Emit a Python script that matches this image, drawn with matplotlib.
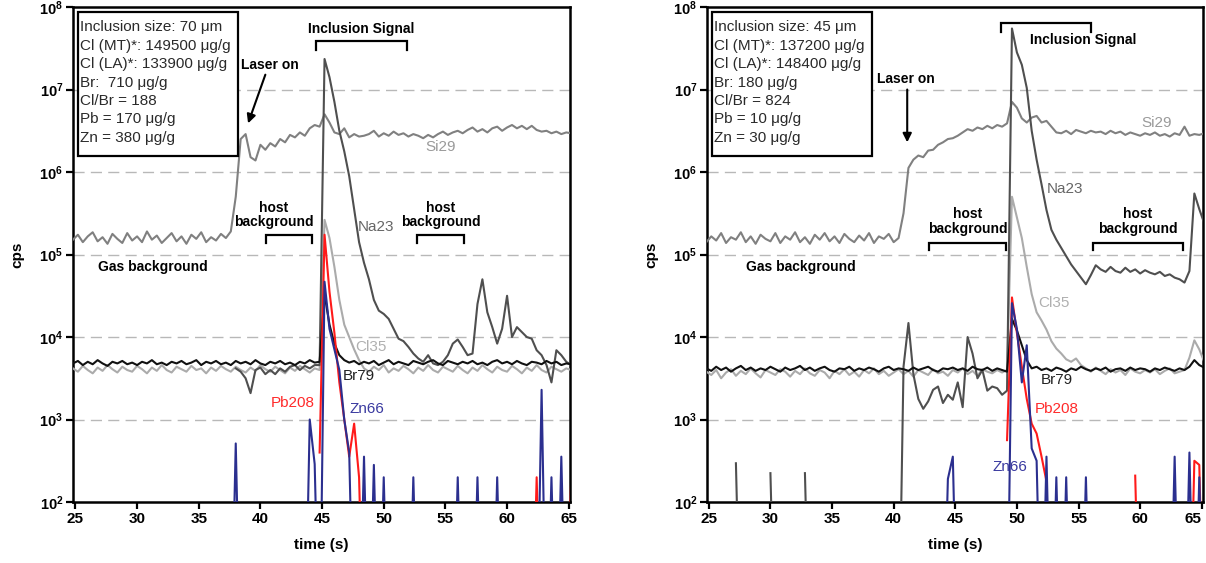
import matplotlib

matplotlib.use("Agg")

import matplotlib.pyplot as plt
import numpy as np
from matplotlib.patches import Rectangle

plt.rcParams["font.family"] = ["Liberation Sans", "DejaVu Sans"]
plt.rcParams["mathtext.fontset"] = "custom"
plt.rcParams["mathtext.rm"] = "Liberation Sans:bold"
plt.rcParams["mathtext.bf"] = "Liberation Sans:bold"
plt.rcParams["mathtext.it"] = "Liberation Sans:bold:italic"

nan = np.nan

# sampling grid (s): 24.8, 25.2, ... 65.2  -> 102 samples
time_s = np.linspace(24.8, 65.2, 102)

# ---- left panel (70 um inclusion), values are log10(cps); 0 = no counts ----
si29_left = [
    5.18, 5.24, 5.15, 5.22, 5.27, 5.16, 5.21, 5.13, 5.25, 5.19,
    5.14, 5.26, 5.17, 5.22, 5.15, 5.28, 5.18, 5.23, 5.14, 5.20,
    5.26, 5.16, 5.22, 5.13, 5.24, 5.19, 5.27, 5.15, 5.21, 5.17,
    5.25, 5.20, 5.28, 5.70, 6.40, 6.46, 6.18, 6.14, 6.33, 6.27,
    6.35, 6.31, 6.40, 6.36, 6.45, 6.42, 6.48, 6.44, 6.53, 6.57,
    6.55, 6.70, 6.60, 6.48, 6.46, 6.53, 6.42, 6.46, 6.43, 6.44,
    6.46, 6.50, 6.43, 6.47, 6.44, 6.49, 6.45, 6.47, 6.43, 6.46,
    6.44, 6.41, 6.45, 6.42, 6.46, 6.49, 6.45, 6.48, 6.50, 6.47,
    6.51, 6.54, 6.49, 6.52, 6.48, 6.53, 6.55, 6.50, 6.54, 6.57,
    6.53, 6.56, 6.52, 6.56, 6.51, 6.49, 6.50, 6.47, 6.49, 6.46,
    6.48, 6.47,
]
na23_left = [
    0, 0, 0, 0, 0, 0, 0, 0, 0, 0,
    0, 0, 0, 0, 0, 0, 0, 0, 0, 0,
    0, 0, 0, 0, 0, 0, 0, 0, 0, 0,
    0, 0, nan, 3.62, 3.58, 3.50, 3.32, 3.60, 3.63, 3.55,
    3.60, 3.55, 3.62, 3.58, 3.64, 3.66, 3.60, 3.65, 3.62, 3.66,
    3.66, 7.37, 7.15, 6.85, 6.50, 6.25, 5.95, 5.55, 5.15, 4.90,
    4.70, 4.45, 4.32, 4.28, 4.22, 4.10, 3.98, 3.95, 3.88, 3.80,
    3.74, 3.70, 3.78, 3.68, 3.66, 3.70, 3.78, 3.92, 3.97, 3.88,
    3.78, 3.80, 4.40, 4.70, 4.30, 4.12, 3.92, 4.10, 4.50, 4.00,
    4.12, 4.06, 4.00, 3.98, 3.84, 3.78, 3.66, 3.45, 3.84, 3.78,
    3.70, 3.66,
]
cl35_left = [
    3.62, 3.58, 3.65, 3.60, 3.56, 3.63, 3.59, 3.66, 3.61, 3.57,
    3.64, 3.60, 3.58, 3.65, 3.61, 3.56, 3.63, 3.59, 3.66, 3.60,
    3.57, 3.64, 3.61, 3.58, 3.65, 3.60, 3.62, 3.56, 3.63, 3.59,
    3.65, 3.61, 3.58, 3.64, 3.60, 3.57, 3.63, 3.59, 3.66, 3.61,
    3.58, 3.64, 3.60, 3.56, 3.63, 3.59, 3.65, 3.61, 3.57, 3.62,
    3.60, 5.42, 5.20, 4.85, 4.45, 4.15, 4.00, 3.85, 3.72, 3.62,
    3.58, 3.64, 3.60, 3.66, 3.57, 3.62, 3.59, 3.65, 3.61, 3.56,
    3.63, 3.59, 3.66, 3.60, 3.57, 3.64, 3.61, 3.58, 3.65, 3.60,
    3.56, 3.63, 3.59, 3.66, 3.61, 3.57, 3.64, 3.60, 3.58, 3.65,
    3.61, 3.56, 3.63, 3.59, 3.66, 3.60, 3.57, 3.64, 3.61, 3.58,
    3.62, 3.60,
]
br79_left = [
    3.68, 3.71, 3.66, 3.70, 3.67, 3.72, 3.68, 3.65, 3.70, 3.68,
    3.71, 3.67, 3.69, 3.66, 3.70, 3.68, 3.72, 3.67, 3.69, 3.66,
    3.70, 3.68, 3.71, 3.67, 3.69, 3.72, 3.66, 3.70, 3.68, 3.71,
    3.67, 3.69, 3.66, 3.71, 3.68, 3.70, 3.67, 3.72, 3.68, 3.66,
    3.70, 3.68, 3.71, 3.67, 3.69, 3.66, 3.70, 3.68, 3.72, 3.69,
    3.70, 4.52, 4.15, 3.92, 3.78, 3.72, 3.69, 3.71, 3.67, 3.70,
    3.68, 3.71, 3.66, 3.69, 3.72, 3.67, 3.70, 3.68, 3.66, 3.71,
    3.69, 3.67, 3.70, 3.72, 3.68, 3.66, 3.71, 3.69, 3.67, 3.70,
    3.68, 3.71, 3.67, 3.69, 3.66, 3.70, 3.72, 3.68, 3.70, 3.67,
    3.71, 3.68, 3.66, 3.70, 3.69, 3.67, 3.71, 3.68, 3.70, 3.66,
    3.68, 3.67,
]
pb208_left = [
    0, 0, 0, 0, 0, 0, 0, 0, 0, 0,
    0, 0, 0, 0, 0, 0, 0, 0, 0, 0,
    0, 0, 0, 0, 0, 0, 0, 0, 0, 0,
    0, 0, 0, 0, 0, 0, 0, 0, 0, 0,
    0, 0, 0, 0, 0, 0, 0, 0, 0, nan,
    2.60, 5.24, 4.55, 4.05, 3.45, 3.00, 2.55, 2.95, 2.30, 0,
    0, 0, 0, 0, 0, 0, 0, 0, 0, 0,
    0, 0, 0, 0, 0, 0, 0, 0, 0, 0,
    0, 0, 0, 0, 0, 0, 0, 0, 0, 0,
    0, 0, 0, 0, 2.30, 0, 0, 0, 0, 0,
    0, 2.30,
]
zn66_left = [
    0, 0, 0, 0, 0, 0, 0, 0, 0, 0,
    0, 0, 0, 0, 0, 0, 0, 0, 0, 0,
    0, 0, 0, 0, 0, 0, 0, 0, 0, 0,
    0, 0, 0, 2.71, 0, 0, 0, 0, 0, 0,
    0, 0, 0, 0, 0, 0, 0, 0, 3.00, 2.46,
    0, 4.67, 4.10, 3.85, 3.60, 3.00, 2.60, 0, 0, 2.55,
    0, 2.45, 0, 2.30, 0, 0, 0, 0, 0, 2.30,
    0, 0, 0, 0, 0, 0, 0, 0, 2.30, 0,
    0, 0, 2.30, 0, 0, 0, 2.30, 0, 0, 0,
    0, 0, 0, 0, 0, 3.36, 0, 2.30, 0, 2.55,
    0, 0,
]

# ---- right panel (45 um inclusion) ----
si29_right = [
    5.15, 5.22, 5.17, 5.26, 5.14, 5.21, 5.18, 5.27, 5.15, 5.22,
    5.13, 5.24, 5.19, 5.16, 5.26, 5.14, 5.22, 5.18, 5.27, 5.15,
    5.21, 5.13, 5.24, 5.18, 5.26, 5.16, 5.22, 5.14, 5.25, 5.19,
    5.15, 5.23, 5.17, 5.26, 5.14, 5.22, 5.19, 5.25, 5.15, 5.20,
    5.50, 6.05, 6.15, 6.20, 6.18, 6.26, 6.27, 6.33, 6.36, 6.40,
    6.41, 6.44, 6.48, 6.52, 6.50, 6.54, 6.52, 6.56, 6.53, 6.57,
    6.55, 6.59, 6.85, 6.78, 6.65, 6.60, 6.66, 6.68, 6.60, 6.62,
    6.55, 6.48, 6.47, 6.50, 6.46, 6.51, 6.49, 6.47, 6.50, 6.48,
    6.49, 6.46, 6.50, 6.47, 6.49, 6.45, 6.48, 6.46, 6.44, 6.47,
    6.45, 6.48, 6.44, 6.46, 6.43, 6.47, 6.45, 6.55, 6.44, 6.46,
    6.45, 6.47,
]
na23_right = [
    0, 0, 0, 0, 0, nan, 2.47, 0, 0, 0,
    0, 0, nan, 2.35, 0, 0, 0, 0, 0, nan,
    2.35, 0, 0, 0, 0, 0, 0, 0, 0, 0,
    0, 0, 0, 0, 0, 0, 0, 0, 0, 0,
    3.64, 4.17, 3.55, 3.25, 3.13, 3.22, 3.36, 3.40, 3.20, 3.30,
    3.24, 3.45, 3.15, 4.00, 3.80, 3.50, 3.60, 3.35, 3.40, 3.38,
    3.30, 3.35, 7.74, 7.45, 7.30, 7.02, 6.50, 6.15, 5.85, 5.54,
    5.30, 5.18, 5.08, 4.98, 4.88, 4.80, 4.72, 4.64, 4.75, 4.87,
    4.82, 4.79, 4.85, 4.80, 4.78, 4.84, 4.79, 4.82, 4.77, 4.81,
    4.78, 4.76, 4.79, 4.74, 4.76, 4.72, 4.70, 4.66, 4.80, 5.74,
    5.55, 5.38,
]
cl35_right = [
    3.58, 3.54, 3.60, 3.50, 3.57, 3.61, 3.53, 3.59, 3.55, 3.62,
    3.56, 3.51, 3.60, 3.57, 3.54, 3.61, 3.58, 3.52, 3.59, 3.55,
    3.62, 3.56, 3.53, 3.60, 3.57, 3.50, 3.59, 3.55, 3.61, 3.54,
    3.58, 3.52, 3.60, 3.56, 3.62, 3.55, 3.59, 3.53, 3.57, 3.61,
    3.55, 3.59, 3.52, 3.60, 3.57, 3.54, 3.61, 3.56, 3.58, 3.53,
    3.60, 3.57, 3.62, 3.55, 3.59, 3.53, 3.61, 3.58, 3.56, 3.60,
    3.57, 3.60, 5.70, 5.45, 5.20, 4.85, 4.52, 4.30, 4.20, 4.09,
    3.95, 3.86, 3.80, 3.73, 3.70, 3.74, 3.66, 3.62, 3.58, 3.63,
    3.59, 3.55, 3.61, 3.57, 3.60, 3.54, 3.62, 3.58, 3.56, 3.60,
    3.57, 3.61, 3.55, 3.59, 3.62, 3.56, 3.58, 3.60, 3.75, 3.96,
    3.85, 3.70,
]
br79_right = [
    3.62, 3.59, 3.64, 3.60, 3.63, 3.58, 3.62, 3.65, 3.60, 3.63,
    3.59, 3.62, 3.60, 3.64, 3.61, 3.58, 3.63, 3.60, 3.62, 3.65,
    3.60, 3.63, 3.59, 3.62, 3.64, 3.60, 3.58, 3.62, 3.61, 3.64,
    3.59, 3.62, 3.60, 3.63, 3.61, 3.58, 3.62, 3.64, 3.60, 3.62,
    3.61, 3.59, 3.63, 3.60, 3.62, 3.64, 3.60, 3.58, 3.62, 3.61,
    3.63, 3.60, 3.62, 3.59, 3.64, 3.61, 3.60, 3.63, 3.59, 3.62,
    3.60, 3.58, 4.22, 4.08, 3.90, 3.72, 3.62, 3.64, 3.60, 3.62,
    3.59, 3.63, 3.61, 3.58, 3.62, 3.60, 3.64, 3.61, 3.59, 3.62,
    3.60, 3.63, 3.58, 3.61, 3.62, 3.59, 3.63, 3.60, 3.62, 3.61,
    3.58, 3.62, 3.60, 3.63, 3.61, 3.59, 3.62, 3.60, 3.64, 3.72,
    3.66, 3.63,
]
pb208_right = [
    0, 0, 0, 0, 0, 0, 0, 0, 0, 0,
    0, 0, 0, 0, 0, 0, 0, 0, 0, 0,
    0, 0, 0, 0, 0, 0, 0, 0, 0, 0,
    0, 0, 0, 0, 0, 0, 0, 0, 0, 0,
    0, 0, 0, 0, 0, 0, 0, 0, 0, 0,
    0, 0, 0, 0, 0, 0, 0, 0, 0, 0,
    nan, 2.75, 4.48, 4.05, 3.64, 3.25, 2.95, 2.83, 2.55, 2.25,
    0, 0, 0, 0, 0, 0, 0, 0, 0, 0,
    0, 0, 0, 0, 0, 0, nan, 2.32, 0, 0,
    0, 0, 0, 0, 0, 0, 0, 0, 0, 2.50,
    2.45, 0,
]
zn66_right = [
    0, 0, 0, 0, 0, 0, 0, 0, 0, 0,
    0, 0, 0, 0, 0, 0, 0, 0, 0, 0,
    0, 0, 0, 0, 0, 0, 0, 0, 0, 0,
    0, 0, 0, 0, 0, 0, 0, 0, 0, 0,
    0, 0, 0, 0, 0, 0, 0, 0, 0, 2.28,
    2.55, 0, 0, 0, 0, 0, 0, 0, 0, 0,
    0, 0, 4.41, 4.10, 3.45, 3.90, 2.65, 2.50, 0, 2.55,
    0, 2.30, 0, 2.30, 0, 0, 0, 2.30, 0, 0,
    0, 0, 0, 0, 0, 0, 0, 0, 0, 0,
    0, 0, 0, 0, 0, 2.55, 0, 0, 2.60, 0,
    2.30, 0,
]

box_left = ("Inclusion size: 70 μm\nCl (MT)*: 149500 μg/g\nCl (LA)*: 133900 μg/g\n"
            "Br:  710 μg/g\nCl/Br = 188\nPb = 170 μg/g\nZn = 380 μg/g")
box_right = ("Inclusion size: 45 μm\nCl (MT)*: 137200 μg/g\nCl (LA)*: 148400 μg/g\n"
             "Br: 180 μg/g\nCl/Br = 824\nPb = 10 μg/g\nZn = 30 μg/g")

ISOTOPES = ["Si29", "Cl35", "Na23", "Br79", "Pb208", "Zn66"]
LINE_COLORS = {"Si29": "#808080", "Na23": "#4f4f4f", "Cl35": "#ababab",
               "Br79": "#111111", "Pb208": "#ff1a1a", "Zn66": "#2b2f8f"}
TEXT_COLORS = {"Si29": "#9a9a9a", "Na23": "#666666", "Cl35": "#b0b0b0",
               "Br79": "#222222", "Pb208": "#ff2a2a", "Zn66": "#3a3aa0"}
XLIM_LEFT = (24.8, 65.1)
XLIM_RIGHT = (24.85, 65.1)


def cps(log_values):
    return np.power(10.0, np.asarray(log_values, dtype=float))


def bracket(ax, t0, t1, top, bottom):
    ax.plot([t0, t0, t1, t1], cps([bottom, top, top, bottom]), color="black",
            lw=1.6, solid_joinstyle="miter", zorder=6)


def bold(ax, x, log_y, s):
    ax.text(x, 10 ** log_y, s, ha="center", va="center", fontsize=10,
            fontweight="bold", color="black", linespacing=1.05, zorder=7)


def draw_panel(ax, series, xlim, box_text, labels):
    for decade in range(3, 8):
        ax.axhline(10 ** decade, color="#b8b8b8", lw=1.0, dashes=(8, 4.5), zorder=1)

    for name in ISOTOPES:
        ax.plot(time_s, cps(series[name]), color=LINE_COLORS[name], lw=1.5,
                zorder=3)

    for name, (x, log_y) in labels.items():
        ax.text(x, 10 ** log_y, name, color=TEXT_COLORS[name], fontsize=11,
                ha="center", va="center", zorder=7)

    ax.set_yscale("log")
    ax.set_ylim(1e2, 1e8)
    ax.set_xlim(*xlim)
    ax.set_yticks([10 ** k for k in range(2, 9)])
    ax.set_yticklabels([r"$10^{%d}$" % k for k in range(2, 9)])
    ax.minorticks_off()
    ax.set_xticks(range(25, 66, 5))
    ax.tick_params(axis="both", direction="out", length=5, width=1.6,
                   labelsize=10.5, pad=2)
    for lab in ax.get_xticklabels():
        lab.set_fontweight("bold")
        lab.set_fontsize(11)
    for side in ("left", "right", "top", "bottom"):
        ax.spines[side].set_linewidth(1.8)

    ax.set_xlabel("time (s)", fontsize=11, fontweight="bold")
    ax.set_ylabel("cps", fontsize=11, fontweight="bold")
    ax.xaxis.set_label_coords(0.5, -0.072)
    ax.yaxis.set_label_coords(-0.098, 0.5)

    ax.add_patch(Rectangle((0.01, 0.70), 0.323, 0.29, transform=ax.transAxes,
                           facecolor="white", edgecolor="black", lw=1.6, zorder=8))
    ax.text(0.014, 0.973, box_text, transform=ax.transAxes, ha="left", va="top",
            fontsize=11, color="#2a2a2a", linespacing=1.40, zorder=9)


fig = plt.figure(figsize=(12.06, 5.63), dpi=100)
ax_l = fig.add_axes([0.0605, 0.1083, 0.4121, 0.8792])
ax_r = fig.add_axes([0.5862, 0.1083, 0.4113, 0.8792])

draw_panel(
    ax_l,
    {"Si29": si29_left, "Na23": na23_left, "Cl35": cl35_left,
     "Br79": br79_left, "Pb208": pb208_left, "Zn66": zn66_left},
    XLIM_LEFT, box_left,
    {"Si29": (54.6, 6.30), "Na23": (49.4, 5.33), "Cl35": (49.0, 3.88),
     "Br79": (48.0, 3.53), "Pb208": (42.6, 3.20), "Zn66": (48.6, 3.13)},
)
bold(ax_l, 40.8, 7.30, "Laser on")
ax_l.annotate("", xy=(39.0, 10 ** 6.59), xytext=(40.4, 10 ** 7.18),
              arrowprops=dict(arrowstyle="-|>", color="black", lw=1.5,
                              mutation_scale=13, shrinkA=0, shrinkB=0), zorder=7)
bold(ax_l, 48.15, 7.73, "Inclusion Signal")
bracket(ax_l, 44.5, 51.9, 7.59, 7.48)
bold(ax_l, 41.1, 5.48, "host\nbackground")
bracket(ax_l, 40.45, 44.2, 5.24, 5.14)
bold(ax_l, 54.6, 5.48, "host\nbackground")
bracket(ax_l, 52.7, 56.5, 5.24, 5.14)
bold(ax_l, 31.3, 4.85, "Gas background")

draw_panel(
    ax_r,
    {"Si29": si29_right, "Na23": na23_right, "Cl35": cl35_right,
     "Br79": br79_right, "Pb208": pb208_right, "Zn66": zn66_right},
    XLIM_RIGHT, box_right,
    {"Si29": (61.35, 6.60), "Na23": (53.9, 5.79), "Cl35": (53.0, 4.41),
     "Br79": (53.2, 3.48), "Pb208": (53.2, 3.13), "Zn66": (49.4, 2.42)},
)
# the last tick label sits flush with the figure edge
ax_r.get_xticklabels()[-1].set_horizontalalignment("right")
bold(ax_r, 41.0, 7.13, "Laser on")
ax_r.annotate("", xy=(41.1, 10 ** 6.36), xytext=(41.1, 10 ** 7.0),
              arrowprops=dict(arrowstyle="-|>", color="black", lw=1.5,
                              mutation_scale=13, shrinkA=0, shrinkB=0), zorder=7)
bold(ax_r, 55.35, 7.60, "Inclusion Signal")
bracket(ax_r, 48.7, 56.0, 7.81, 7.70)
bold(ax_r, 46.0, 5.40, "host\nbackground")
bracket(ax_r, 42.9, 49.1, 5.14, 5.05)
bold(ax_r, 59.8, 5.40, "host\nbackground")
bracket(ax_r, 56.15, 63.45, 5.14, 5.05)
bold(ax_r, 32.5, 4.85, "Gas background")

fig.savefig("out.png", dpi=100)
